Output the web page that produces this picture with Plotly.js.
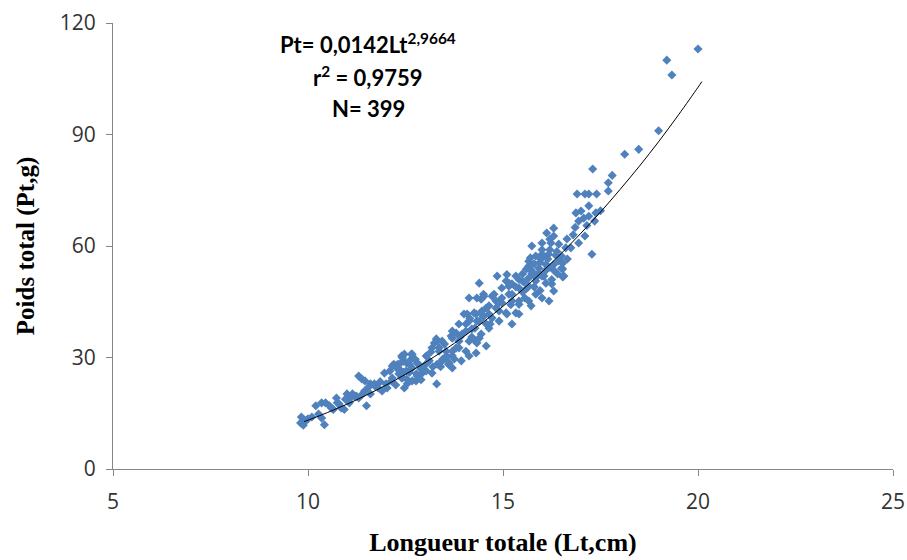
<!DOCTYPE html>
<html>
<head>
<meta charset="utf-8">
<script src="https://cdn.plot.ly/plotly-3.0.1.min.js"></script>
<style>html,body{margin:0;padding:0;background:#fff;}#chart{width:907px;height:560px;}</style>
</head>
<body>
<div id="chart"></div>
<script>
// Observed fish: total length (cm) and total weight (g)
const lt = [
  9.83,9.81,9.94,9.88,10.0,10.1,10.2,10.35,10.45,10.27,
  10.35,10.42,10.6,10.65,10.73,10.8,10.93,10.55,10.75,10.85,
  10.96,9.9,11.0,11.14,11.24,11.06,11.06,11.2,11.3,11.45,
  11.5,11.3,11.38,11.46,11.6,11.7,11.72,11.8,11.4,11.6,
  11.96,11.9,11.55,11.85,12.03,12.14,12.2,12.27,12.4,12.47,
  12.33,12.4,12.53,12.53,12.65,12.47,12.0,12.16,12.3,12.65,
  12.16,12.45,12.67,12.77,12.93,12.1,12.25,12.6,12.85,12.8,
  12.55,12.95,12.35,12.45,12.75,12.9,12.42,12.34,12.52,12.42,
  12.67,12.6,12.8,12.9,12.78,12.67,13.03,13.11,13.03,13.18,
  13.0,13.2,13.24,13.32,13.3,13.36,13.5,13.55,13.6,13.67,
  13.7,13.8,13.87,13.95,14.05,14.08,13.4,13.15,13.45,13.7,
  13.29,13.44,13.18,13.36,13.54,13.7,13.87,13.75,13.93,14.13,
  13.54,13.31,13.44,13.62,13.7,13.7,13.9,13.8,13.87,14.05,
  14.2,14.13,14.39,14.05,14.31,14.57,14.3,14.33,14.46,14.57,
  14.64,14.72,14.82,14.9,14.97,15.1,15.23,15.2,14.39,14.5,
  14.44,14.77,14.82,14.97,15.15,14.33,14.64,14.13,14.26,14.5,
  14.67,14.28,14.2,14.33,14.44,14.15,14.51,14.72,14.9,14.31,
  14.46,14.64,14.0,14.13,14.39,14.57,14.85,15.08,15.15,15.23,
  15.33,15.1,15.33,15.15,15.23,15.41,14.97,15.23,15.41,15.56,
  15.66,15.84,16.0,16.18,15.72,15.41,15.08,14.9,15.66,15.84,
  15.66,15.74,15.92,16.1,16.0,16.1,16.25,15.5,15.6,15.8,
  15.95,15.7,15.84,16.0,16.17,15.74,15.66,15.97,16.1,15.8,
  15.95,16.18,15.6,15.74,15.92,16.1,16.3,15.5,15.54,15.41,
  15.66,15.85,15.33,15.5,15.41,16.3,16.05,16.25,16.43,16.56,
  16.5,16.3,16.3,16.12,16.3,16.0,16.23,16.43,16.64,16.61,
  16.74,16.94,17.1,16.5,16.53,16.53,16.53,16.38,16.2,16.4,
  16.65,16.15,16.35,16.0,16.2,16.87,17.0,16.94,17.07,17.2,
  17.38,16.9,17.1,17.2,17.4,17.2,17.35,17.28,17.3,17.8,
  17.7,17.7,17.15,16.8,17.5,16.85,18.12,18.48,18.99,19.2,
  19.33,20.0
];
const pt = [
  14.0,12.4,12.9,11.8,13.5,14.0,17.0,17.8,17.8,14.8,
  13.7,11.9,16.4,16.0,19.1,17.5,16.0,17.0,17.8,16.4,
  18.8,13.2,20.2,20.2,19.6,18.8,17.8,19.6,19.1,21.0,
  17.0,25.0,24.2,23.7,22.9,22.9,22.3,21.8,20.2,20.2,
  25.8,21.0,22.0,23.5,21.8,23.7,28.2,27.2,30.4,30.9,
  25.6,24.5,24.2,28.5,29.6,21.8,22.9,27.7,28.2,30.9,
  24.5,26.0,27.2,23.7,25.8,26.4,22.6,26.0,28.0,25.0,
  23.0,27.0,26.8,29.0,29.5,24.0,29.9,28.2,26.4,24.5,
  30.9,28.2,28.5,26.9,25.6,23.7,30.4,29.1,26.4,25.8,
  28.0,27.5,33.9,34.4,22.9,31.7,33.6,30.4,28.2,35.8,
  37.1,32.6,34.4,36.3,39.0,41.7,27.5,31.5,29.5,30.5,
  35.0,34.4,32.6,32.6,31.7,31.7,32.6,29.6,29.1,30.4,
  29.9,28.2,29.1,28.5,27.2,35.2,35.5,36.6,39.0,37.1,
  37.7,34.4,35.2,31.7,31.2,33.1,34.4,39.8,41.7,43.3,
  37.9,40.6,43.3,39.8,44.7,41.7,39.0,44.2,50.0,47.0,
  45.7,47.0,45.2,46.0,47.0,46.0,43.9,46.0,42.0,41.0,
  39.0,37.9,35.5,33.9,36.3,40.5,46.5,46.5,44.7,41.7,
  42.5,41.7,41.7,39.8,39.8,39.0,51.9,50.6,49.2,45.2,
  42.0,52.3,51.9,50.0,49.8,48.7,48.7,47.0,45.2,46.0,
  45.2,47.0,46.0,45.2,43.9,41.7,42.0,42.5,51.4,50.6,
  54.6,53.3,54.0,55.0,51.9,50.0,49.8,50.5,48.5,49.0,
  48.0,56.8,57.3,57.8,57.8,60.0,55.9,56.5,57.0,55.2,
  55.6,54.2,53.8,52.6,52.8,53.5,53.5,52.5,50.3,51.0,
  49.2,51.5,49.0,47.6,44.3,47.9,51.9,51.0,56.0,51.9,
  54.0,55.0,64.8,63.5,62.7,60.8,60.8,60.5,61.9,59.5,
  59.5,60.8,62.7,57.3,55.4,53.8,51.7,58.5,59.0,52.5,
  56.5,56.5,57.5,59.0,61.8,68.9,69.4,66.7,67.5,68.0,
  68.9,74.0,74.0,74.0,74.0,70.8,66.7,57.8,80.7,79.0,
  77.0,74.8,65.5,63.0,69.5,65.0,84.7,86.0,91.0,110.0,
  106.0,113.0
];
// Power trend line
const fitLt = [9.9,10,10.5,11,11.5,12,12.5,13,13.5,14,14.5,15,15.5,16,16.5,17,17.5,18,18.5,19,19.5,20,20.1];
const fitPt = [12.76,13.14,15.19,17.44,19.89,22.57,25.48,28.62,32.01,35.68,39.57,43.79,48.23,53.02,58.06,63.47,69.13,75.2,81.51,88.2,95.29,102.7,104.24];

const xTicks = [5,10,15,20,25];
const yTicks = [0,30,60,90,120];
const eqLines = ['Pt= 0,0142Lt<sup>2,9664</sup>', 'r<sup>2</sup> = 0,9759', 'N= 399'];

const traces = [
  {x: lt, y: pt, type: 'scatter', mode: 'markers',
   marker: {symbol: 'diamond', size: 7, color: '#4F81BD', line: {width: 0}},
   hoverinfo: 'x+y', showlegend: false},
  {x: fitLt, y: fitPt, type: 'scatter', mode: 'lines',
   line: {color: '#000000', width: 1, shape: 'spline'}, showlegend: false}
];

const axisCommon = {
  showgrid: false, zeroline: false, showline: true, linecolor: '#868686', linewidth: 1,
  ticks: 'outside', ticklen: 6, tickcolor: '#868686', tickwidth: 1,
  tickfont: {family: 'Open Sans, sans-serif', size: 21, color: '#333333'}
};

const layout = {
  width: 907, height: 560,
  margin: {l: 113, r: 14, t: 23, b: 91},
  paper_bgcolor: '#ffffff', plot_bgcolor: '#ffffff',
  xaxis: Object.assign({}, axisCommon, {
    range: [5, 25], tickmode: 'array', tickvals: xTicks, ticktext: xTicks.map(String),
    ticklabelstandoff: 8,
    title: {text: 'Longueur totale (Lt,cm)', standoff: 18,
            font: {family: 'Liberation Serif, Times New Roman, serif', size: 26, color: '#000000', weight: 'bold'}}
  }),
  yaxis: Object.assign({}, axisCommon, {
    range: [0, 120], tickmode: 'array', tickvals: yTicks, ticktext: yTicks.map(String),
    ticklabelstandoff: 6,
    title: {text: 'Poids total (Pt,g)', standoff: 18,
            font: {family: 'Liberation Serif, Times New Roman, serif', size: 25, color: '#000000', weight: 'bold'}}
  }),
  annotations: eqLines.map((t, i) => ({
    x: 11.55, y: [114.6, 105.5, 96.9][i], xref: 'x', yref: 'y',
    text: '<b>' + t + '</b>', showarrow: false, xanchor: 'center', yanchor: 'middle',
    font: {family: 'Lato, Open Sans, sans-serif', size: 22, color: '#000000'}
  }))
};

Plotly.newPlot('chart', traces, layout, {displayModeBar: false, staticPlot: true});
</script>
</body>
</html>
